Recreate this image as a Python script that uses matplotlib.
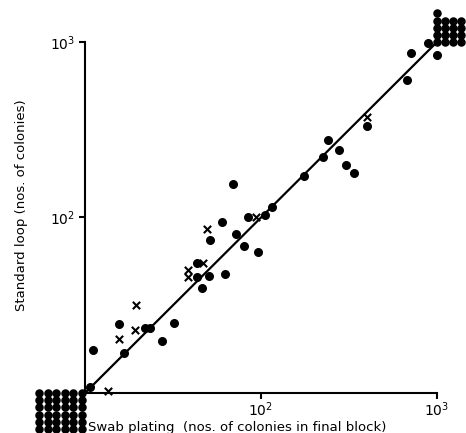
import numpy as np
import matplotlib
matplotlib.use('Agg')
import matplotlib.pyplot as plt
from matplotlib.ticker import NullLocator, LogFormatterMathtext

# values (colonies counted by each method)
dot_swab = [10.7, 11.1, 16.7, 15.7, 21.9, 23.4, 27.3, 32.1, 46.5, 43.1, 50.8,
            62.4, 43.1, 51.3, 59.8, 69.7, 72.1, 80.4, 84, 95.7, 105, 115,
            175, 226, 239, 277, 303, 337, 398, 676, 708, 885, 1005]
dot_loop = [10.8, 17.6, 16.8, 24.6, 23.6, 23.4, 19.8, 25.2, 39.5, 45.6, 46.4,
            47.7, 54.8, 74.4, 94.6, 155, 80.2, 68.9, 100, 63.8, 104, 115,
            172, 222, 277, 243, 199, 179, 332, 607, 863, 984, 843]
x_swab = [13.5, 15.7, 19.2, 19.4, 38.6, 38.6, 47, 49.1, 93.8, 398]
x_loop = [10.2, 20.2, 22.9, 31.7, 50.2, 45.6, 55.2, 85.7, 101, 375]

# blocks of points off the scale: (<10, <10) and (>1000, >1000)
low_cols, low_rows = 6, 6
high_cols, high_rows = 4, 4

fig = plt.figure(figsize=(4.66, 4.33), dpi=100)
ax = fig.add_axes([0.1824, 0.0924, 0.7554, 0.8106])
ax.set_xscale('log')
ax.set_yscale('log')
ax.set_xlim(10, 1000)
ax.set_ylim(10, 1000)

# line of equality
ax.plot([10, 1000], [10, 1000], color='black', lw=1.6, zorder=2)

ax.scatter(dot_swab, dot_loop, s=30, color='black', zorder=3, clip_on=False)
ax.scatter(x_swab, x_loop, s=28, marker='x', color='black', linewidths=1.5,
           zorder=3, clip_on=False)

# corner blocks, laid out in log space just outside the axes
step = 0.049
gx, gy = np.meshgrid(np.arange(low_cols), np.arange(low_rows))
bx = 10 ** (0.983 - step * gx.ravel())
by = 10 ** (1.0 - 0.041 * gy.ravel())
ax.scatter(bx, by, s=26, color='black', clip_on=False, zorder=3)

gx, gy = np.meshgrid(np.arange(high_cols), np.arange(high_rows))
tx = list(10 ** (3.0 + 0.046 * gx.ravel())) + [1000]
ty = list(10 ** (3.0 + 0.039 * gy.ravel())) + [10 ** 3.165]
ax.scatter(tx, ty, s=26, color='black', clip_on=False, zorder=3)

for s in ['top', 'right']:
    ax.spines[s].set_visible(False)
for s in ['left', 'bottom']:
    ax.spines[s].set_linewidth(1.5)

ax.set_xticks([100, 1000])
ax.set_yticks([100, 1000])
ax.xaxis.set_minor_locator(NullLocator())
ax.yaxis.set_minor_locator(NullLocator())
ax.xaxis.set_major_formatter(LogFormatterMathtext())
ax.yaxis.set_major_formatter(LogFormatterMathtext())
ax.tick_params(direction='out', length=4, width=1.5, labelsize=10, pad=3)
ax.tick_params(axis='x', pad=1)

fig.text(22 / 466, 1 - 205 / 433, 'Standard loop (nos. of colonies)',
         rotation=90, ha='center', va='center', fontsize=9.5)
fig.text(88 / 466, 1 - 427 / 433,
         'Swab plating  (nos. of colonies in final block)',
         ha='left', va='center', fontsize=9.5)

fig.savefig('out.png', dpi=100)
